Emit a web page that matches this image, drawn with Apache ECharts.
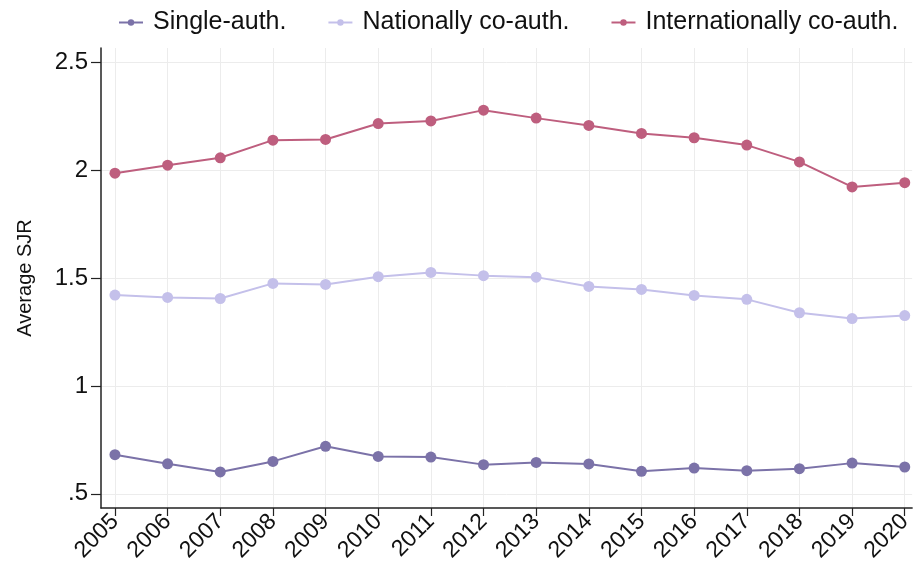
<!DOCTYPE html>
<html>
<head>
<meta charset="utf-8">
<script src="https://cdn.jsdelivr.net/npm/echarts@6/dist/echarts.min.js"></script>
<style>html,body{margin:0;padding:0;background:#fff}#c{width:915px;height:573px}</style>
</head>
<body>
<div id="c"></div>
<script>
const years = [2005,2006,2007,2008,2009,2010,2011,2012,2013,2014,2015,2016,2017,2018,2019,2020];
const singleAuth = [0.681,0.639,0.601,0.650,0.720,0.673,0.670,0.635,0.645,0.638,0.604,0.619,0.607,0.616,0.642,0.624];
const nationalCoAuth = [1.421,1.410,1.405,1.475,1.470,1.506,1.526,1.511,1.504,1.461,1.447,1.419,1.401,1.339,1.312,1.326];
const internationalCoAuth = [1.986,2.023,2.057,2.139,2.142,2.216,2.228,2.278,2.241,2.207,2.170,2.150,2.116,2.038,1.922,1.942];
const seriesNames = ['Single-auth.','Nationally co-auth.','Internationally co-auth.'];
const yTicks = [0.5,1,1.5,2,2.5];

const colors = ['#7b72a8','#c4c0ea','#be5e7e'];
const pair = arr => years.map((y,i)=>[y,arr[i]]);
const fmtY = v => { const s = String(v); return s.startsWith('0.') ? s.slice(1) : s; };

const chart = echarts.init(document.getElementById('c'), null, {renderer:'canvas'});
const mk = (name, data, color) => ({
  name, type:'line', data: pair(data),
  symbol:'circle', symbolSize:11, showSymbol:true,
  lineStyle:{color, width:2}, itemStyle:{color},
  z: 3
});
chart.setOption({
  animation:false,
  color: colors,
  textStyle:{fontFamily:'Liberation Sans, Arial, sans-serif'},
  legend:{
    top:5, left:113, itemGap:41, itemWidth:24, itemHeight:8,
    textStyle:{fontSize:25, color:'#111', padding:[0,0,0,5]},
    data: seriesNames
  },
  grid:{left:101, right:0, top:48, bottom:65, containLabel:false},
  xAxis:{
    type:'value', min:2004.735, max:2020.14,
    axisLine:{show:true, lineStyle:{color:'#222', width:1.5}},
    axisTick:{show:true, length:8, lineStyle:{color:'#222', width:1.2}, customValues: years},
    axisLabel:{fontSize:23, color:'#111', rotate:45, margin:10, customValues: years, formatter: v => String(v)},
    splitLine:{show:true, lineStyle:{color:'#ececec', width:1}}
  },
  yAxis:{
    type:'value', min:0.434, max:2.566,
    name:'Average SJR', nameLocation:'middle', nameGap:66,
    nameTextStyle:{fontSize:20, color:'#111'},
    axisLine:{show:true, lineStyle:{color:'#222', width:1.5}},
    axisTick:{show:true, length:10, lineStyle:{color:'#222', width:1.2}, customValues: yTicks},
    axisLabel:{fontSize:24, color:'#111', margin:13, customValues: yTicks, formatter: fmtY},
    splitLine:{show:true, lineStyle:{color:'#ececec', width:1}}
  },
  series:[
    mk(seriesNames[0], singleAuth, colors[0]),
    mk(seriesNames[1], nationalCoAuth, colors[1]),
    mk(seriesNames[2], internationalCoAuth, colors[2])
  ]
});
</script>
</body>
</html>
